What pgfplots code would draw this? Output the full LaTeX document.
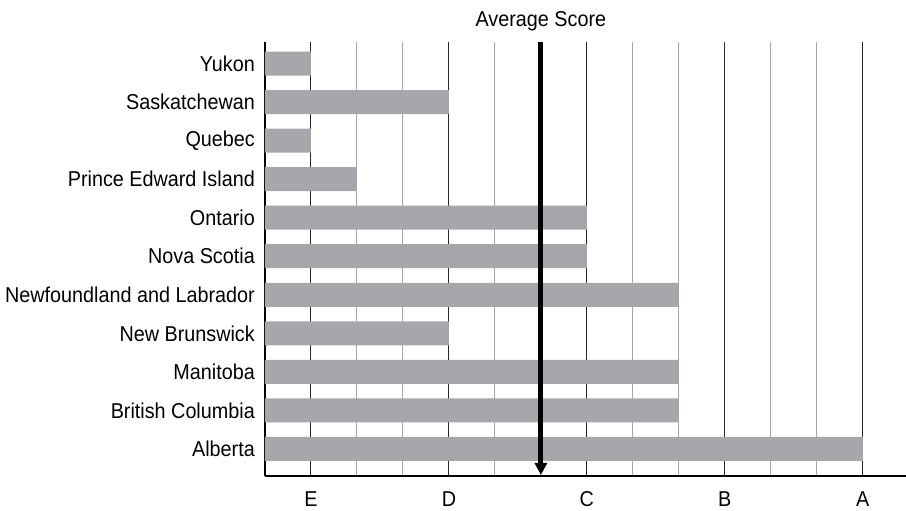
\documentclass[border=0pt]{standalone}
\usepackage{fontspec}
\setmainfont{Liberation Sans}[FakeStretch=0.92]
\usepackage{pgfplots}
\pgfplotsset{compat=1.18}
\usetikzlibrary{arrows.meta}
\definecolor{barGray}{RGB}{166,167,170}
\begin{document}
\begin{tikzpicture}[font=\fontsize{21.5}{25}\selectfont]
\useasboundingbox (0pt,0pt) rectangle (906pt,511pt);
\begin{axis}[
  at={(265pt,34.5pt)}, anchor=south west,
  scale only axis, width=641pt, height=434pt,
  xmin=0, xmax=13.94, ymin=-0.714, ymax=10.545,
  axis lines*=left,
  axis line style={line width=2pt, black},
  xtick={1,4,7,10,13}, xticklabels={E,D,C,B,A},
  minor xtick={2,3,5,6,8,9,11,12},
  ytick={0,...,10},
  yticklabels={Alberta,British Columbia,Manitoba,New Brunswick,Newfoundland and Labrador,Nova Scotia,Ontario,Prince Edward Island,Quebec,Saskatchewan,Yukon},
  major tick length=0pt, minor tick length=0pt,
  xmajorgrids, xminorgrids,
  major grid style={black!85, line width=1pt},
  minor grid style={black!35, line width=1pt},
  xticklabel style={anchor=north, inner sep=0pt, yshift=-15pt},
  yticklabel style={anchor=east, inner sep=0pt, xshift=-10pt},
  clip=false,
]
\addplot[xbar, fill=barGray, draw=none, bar width=24pt] coordinates {
(13,0) (9,1) (9,2) (4,3) (9,4) (7,5) (7,6) (2,7) (1,8) (4,9) (1,10)};
\addplot[black, line width=5pt, -{Triangle[width=12pt,length=12pt]}] coordinates {(6,10.545) (6,-0.675)};
\node[anchor=base, inner sep=0pt] at (axis cs:6,10.96) {Average Score};
\end{axis}
\end{tikzpicture}
\end{document}
